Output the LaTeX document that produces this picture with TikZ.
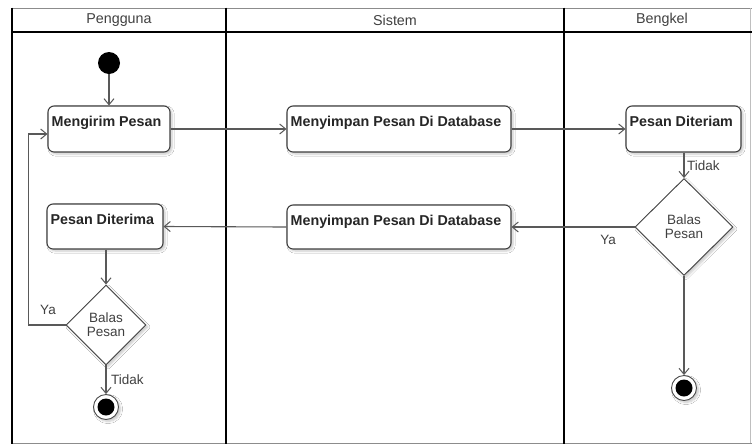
\documentclass[tikz,border=0pt]{standalone}
\usepackage{fontspec}
\setmainfont{Liberation Sans}
\usetikzlibrary{arrows.meta,shapes.geometric,shadows.blur}

\tikzset{
  lane/.style={line width=1.9pt, black},
  edge/.style={line width=0.8pt, black!45},
  flow/.style={draw=black!65, line width=1.1pt,
    -{Straight Barb[length=6pt,width=10pt,line width=1pt]}},
  soft/.style={blur shadow={shadow xshift=2pt, shadow yshift=-2pt,
    shadow blur steps=6, shadow opacity=22}},
  acttext/.style={anchor=base west, inner sep=0pt, xshift=4pt, yshift=-21pt,
    font=\bfseries\fontsize{14.3}{16}\selectfont, text=black!85},
  act/.style={draw=black!75, line width=1.1pt, rounded corners=6pt,
    fill=white, inner sep=0pt, minimum height=46pt, soft,
    label={[acttext]north west:#1}},
  decision/.style={diamond, draw=black!75, line width=0.9pt, fill=white,
    inner sep=0pt, align=center, soft, text=black!75,
    font=\fontsize{13.5}{14}\selectfont},
  startnode/.style={circle, fill=black, inner sep=0pt, minimum size=22pt},
  endnode/.style={circle, draw=black!70, line width=0.9pt, fill=white,
    inner sep=0pt, minimum size=25pt, soft,
    path picture={\fill[black] (path picture bounding box.center) circle (8.5pt);}},
  head/.style={font=\fontsize{14.3}{16}\selectfont, text=black!75, inner sep=0pt},
  tag/.style={font=\fontsize{13.5}{15}\selectfont, text=black!75, inner sep=0pt}
}

\begin{document}
\begin{tikzpicture}[x=1pt, y=-1pt]
  \useasboundingbox[fill=white] (0,0) rectangle (752,445);

  % swimlane frame
  \draw[edge] (12,8) -- (752,8);
  \draw[edge] (12,443) -- (752,443);
  \draw[line width=0.6pt, black!25] (750,8) -- (750,443);
  \draw[lane] (12,32) -- (752,32);
  \draw[lane] (12,7.5) -- (12,443.5);
  \draw[lane] (226,7.5) -- (226,443.5);
  \draw[lane] (564,7.5) -- (564,443.5);

  % lane headers
  \node[head] (hUser) at (119,20) {Pengguna};
  \node[head] (hSys)  at (395,20) {Sistem};
  \node[head] (hShop) at (662,20) {Bengkel};

  % activities
  \node[startnode] (start) at (109,63) {};
  \node[act=Mengirim Pesan, minimum width=122pt] (send) at (109,129) {};
  \node[act=Menyimpan Pesan Di Database, minimum width=224pt] (store1) at (399,129) {};
  \node[act=Pesan Diteriam, minimum width=115pt] (recv1) at (683.5,129) {};
  \node[decision, minimum width=98pt, minimum height=97pt] (reply1) at (684,227) {Balas\\Pesan};
  \node[endnode] (end1) at (684,388) {};

  \node[act=Menyimpan Pesan Di Database, minimum width=224pt, minimum height=44pt] (store2) at (399,227) {};
  \node[act=Pesan Diterima, minimum width=116pt, minimum height=45pt] (recv2) at (105,226.5) {};
  \node[decision, minimum width=80pt, minimum height=80pt] (reply2) at (106,325) {Balas\\Pesan};
  \node[endnode] (end2) at (106,407) {};

  % control flow
  \draw[flow] (start) -- (send);
  \draw[flow] (send) -- (store1);
  \draw[flow] (store1) -- (recv1);
  \draw[flow] (recv1.south -| reply1.north) -- (reply1.north);
  \draw[flow] (reply1.west) -- (store2.east);
  \draw[flow] (reply1.south) -- (end1.north);
  \draw[flow] (store2.west) -- (recv2.east);
  \draw[flow] (recv2.south -| reply2.north) -- (reply2.north);
  \draw[flow] (reply2.south) -- (end2.north);
  \draw[flow] (reply2.west) -- ++(-37,0) |- ([yshift=-5pt]send.west);

  % guard labels
  \node[tag, anchor=west] (gNo1)  at (687,166) {Tidak};
  \node[tag] (gYes1) at (608,240) {Ya};
  \node[tag] (gYes2) at (48,310) {Ya};
  \node[tag, anchor=west] (gNo2)  at (111,380) {Tidak};
\end{tikzpicture}
\end{document}
